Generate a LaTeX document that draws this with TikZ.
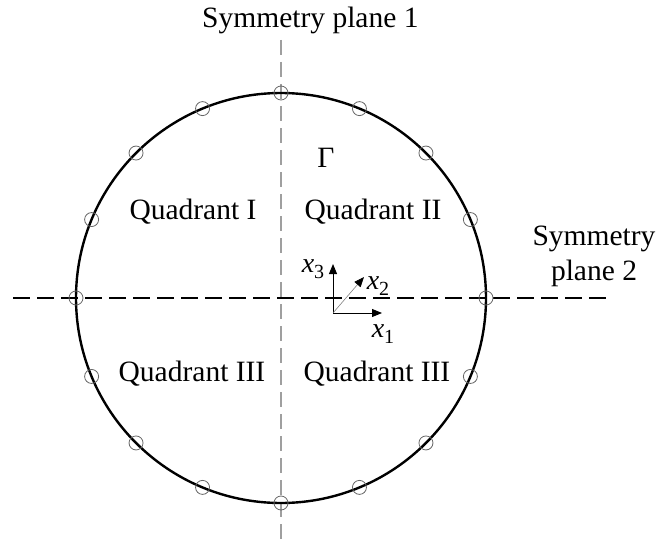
\documentclass[tikz,border=0pt]{standalone}
\usepackage{fontspec}
\setmainfont{Liberation Serif}
\usepackage{tikz}
\usetikzlibrary{arrows.meta,positioning}
\newcommand{\axlab}[1]{{\fontsize{28}{30}\selectfont\itshape x}\raisebox{-6pt}{\fontsize{20}{22}\selectfont #1}}
\tikzset{
  lab/.style={anchor=base,inner sep=0pt,font=\fontsize{29.5}{34}\selectfont},
  node mark/.style={draw=gray!80!black,line width=0.8pt},
  axis arrow/.style={line width=1pt,-{Triangle[length=10pt,width=8pt,color=black]}}
}
\begin{document}
\begin{tikzpicture}[x=1pt,y=-1pt]
  \useasboundingbox (0,0) rectangle (659,543);
  \coordinate (c) at (281,298);
  \coordinate (top) at (281,40);
  \coordinate (bot) at (281,543);
  \coordinate (left) at (13,298);
  \coordinate (right) at (607,298);
  \draw[gray!75,line width=1.2pt,dash pattern=on 15pt off 7pt] (top) -- (bot);
  \draw[line width=1.2pt,dash pattern=on 17pt off 7pt] (left) -- (right);
  \draw[line width=2.4pt] (c) circle[radius=205];
  \foreach \a in {0,22.5,...,337.5}{
    \draw[node mark,shift={(c)}] (\a:205) circle[radius=7];
  }
  \node[lab,anchor=base west] (plane1) at (202,28) {Symmetry plane 1};
  \node[lab] (plane2a) at (594,245) {Symmetry};
  \node[lab] (plane2b) at (594,280) {plane 2};
  \node[lab] (gamma) at (326,167) {Γ};
  \node[lab] (q1) at (193,219) {Quadrant I};
  \node[lab] (q2) at (373,219) {Quadrant II};
  \node[lab] (q3) at (192,381) {Quadrant III};
  \node[lab] (q4) at (377,381) {Quadrant III};
  \coordinate (o) at (333,313);
  \coordinate (e1) at (382,313);
  \coordinate (e2) at (364,277);
  \coordinate (e3) at (333,264);
  \draw[axis arrow] (o) -- (e1);
  \draw[axis arrow] (o) -- (e3);
  \draw[axis arrow,line width=0.6pt,gray] (o) -- (e2);
  \node[anchor=base,inner sep=0pt] (l1) at (383,337) {\axlab{1}};
  \node[anchor=base,inner sep=0pt] (l2) at (378,289) {\axlab{2}};
  \node[anchor=base,inner sep=0pt] (l3) at (313,272) {\axlab{3}};
\end{tikzpicture}
\end{document}
